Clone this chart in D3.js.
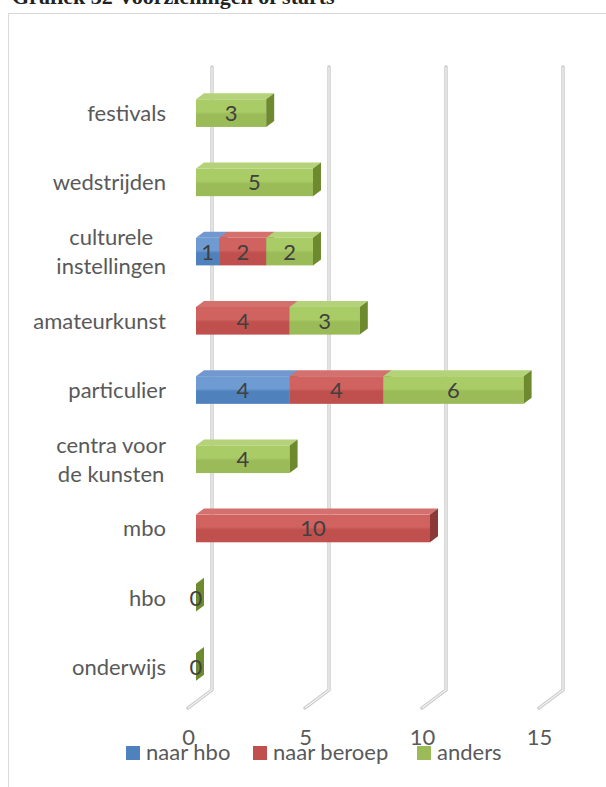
<!DOCTYPE html>
<html>
<head>
<meta charset="utf-8">
<script src="https://cdn.jsdelivr.net/npm/d3@7"></script>
<style>
  body { margin: 0; background: #fff; }
  svg text { font-family: Lato, "Open Sans", sans-serif; }
</style>
</head>
<body>
<div class="chart"></div>
<script>
// categories from top to bottom
const categories = ['festivals', 'wedstrijden', 'culturele\ninstellingen', 'amateurkunst',
  'particulier', 'centra voor\nde kunsten', 'mbo', 'hbo', 'onderwijs'];
const seriesNames = ['naar hbo', 'naar beroep', 'anders'];
// null = no segment drawn
const naarHbo    = [null, null, 1, null, 4, null, null, null, null];
const naarBeroep = [null, null, 2, 4, 4, null, 10, null, null];
const anders     = [3, 5, 2, 3, 6, 4, null, 0, 0];
const tickValues = [0, 5, 10, 15];

const series = [naarHbo, naarBeroep, anders];
const colors = [
  {front: '#4f81bd', light: '#6f9bd3', top: '#7199cf', side: '#37608f'},
  {front: '#c0504d', light: '#d0625f', top: '#d4716e', side: '#8c3a37'},
  {front: '#9bbb59', light: '#a9cc66', top: '#b4d279', side: '#6e8a2f'}
];

const width = 606, height = 787;
const fs = 22;
const svg = d3.select('.chart').append('svg')
  .attr('width', width)
  .attr('height', height);

// title (cut off at top)
svg.append('text')
  .attr('x', 12).attr('y', 4)
  .style('font-family', '"Liberation Serif", serif')
  .attr('font-size', 22)
  .attr('font-weight', 'bold')
  .attr('fill', '#222')
  .text('Grafiek 32 Voorzieningen of starts');

// outer frame
svg.append('rect')
  .attr('x', 8.5).attr('y', 13.5)
  .attr('width', 620).attr('height', 800)
  .attr('fill', 'none')
  .attr('stroke', '#d9d9d9');

// scales: front of bars, floor front, back wall
const unit = 23.4;
const xBar = d3.scaleLinear().domain([0, 15]).range([196, 196 + 15 * unit]);
const xFloor = d3.scaleLinear().domain([0, 15]).range([188, 188 + 15 * unit]);
const xWall = d3.scaleLinear().domain([0, 15]).range([212, 212 + 15 * unit]);
const y = d3.scaleBand().domain(categories).range([78.5, 701.5]).paddingInner(0.6).paddingOuter(0.3);
const dx = 8, dy = 6;

// gridlines on the back wall + floor
const grid = svg.append('g');
tickValues.forEach(v => {
  const path = `M${xWall(v)},67 L${xWall(v)},690 L${xFloor(v)},708`;
  grid.append('path').attr('d', path).attr('fill', 'none')
    .attr('stroke', '#c9c9c9').attr('stroke-width', 3.4).attr('stroke-linejoin', 'round').attr('stroke-linecap', 'round');
  grid.append('path').attr('d', path).attr('fill', 'none')
    .attr('stroke', '#f4f4f4').attr('stroke-width', 1.2);
});

// gradients for front faces
const defs = svg.append('defs');
colors.forEach((c, i) => {
  const g = defs.append('linearGradient').attr('id', 'grad' + i)
    .attr('x1', 0).attr('y1', 0).attr('x2', 0).attr('y2', 1);
  g.append('stop').attr('offset', '0%').attr('stop-color', c.light);
  g.append('stop').attr('offset', '45%').attr('stop-color', c.light);
  g.append('stop').attr('offset', '55%').attr('stop-color', c.front);
  g.append('stop').attr('offset', '100%').attr('stop-color', c.front);
});

// bars
const bars = svg.append('g');
const labels = [];
categories.forEach((cat, ci) => {
  let cum = 0;
  const yt = y(cat), yb = y(cat) + y.bandwidth();
  series.forEach((s, si) => {
    const v = s[ci];
    if (v === null) return;
    const x0 = xBar(cum), x1 = xBar(cum + v);
    const c = colors[si];
    if (v > 0) {
      bars.append('rect')
        .attr('x', x0).attr('y', yt)
        .attr('width', x1 - x0).attr('height', yb - yt)
        .attr('fill', `url(#grad${si})`);
      bars.append('path')
        .attr('d', `M${x0},${yt} L${x0 + dx},${yt - dy} L${x1 + dx},${yt - dy} L${x1},${yt} Z`)
        .attr('fill', c.top);
    }
    bars.append('path')
      .attr('d', `M${x1},${yt} L${x1 + dx},${yt - dy} L${x1 + dx},${yb - dy} L${x1},${yb} Z`)
      .attr('fill', c.side);
    labels.push({v: v, x: (x0 + x1) / 2, y: (yt + yb) / 2});
    cum += v;
  });
});

svg.append('g').selectAll('text')
  .data(labels)
  .enter()
  .append('text')
  .attr('x', d => d.x)
  .attr('y', d => d.y + 8)
  .attr('text-anchor', 'middle')
  .attr('font-size', fs)
  .attr('fill', '#404040')
  .text(d => d.v);

// category labels (multi-line centered, block right-aligned)
const catG = svg.append('g');
categories.forEach(cat => {
  const lines = cat.split('\n');
  const cy = y(cat) + y.bandwidth() / 2;
  const t = catG.append('text')
    .attr('font-size', fs)
    .attr('fill', '#595959')
    .attr('text-anchor', 'middle');
  const lh = 29;
  lines.forEach((ln, i) => {
    t.append('tspan').attr('y', cy + 8 + (i - (lines.length - 1) / 2) * lh).text(ln);
  });
  let maxW = 0;
  t.selectAll('tspan').each(function() { maxW = Math.max(maxW, this.getComputedTextLength()); });
  t.selectAll('tspan').attr('x', 166 - maxW / 2);
});

// value axis labels
const axis = svg.append('g')
  .attr('transform', 'translate(0,729)')
  .call(d3.axisBottom(xFloor).tickValues(tickValues).tickSize(0).tickPadding(0));
axis.select('.domain').remove();
axis.selectAll('text').attr('font-size', fs).attr('fill', '#595959')
  .style('font-family', 'Lato, sans-serif');

// legend
const legendX = [126, 253, 417];
const legend = svg.append('g');
seriesNames.forEach((n, i) => {
  legend.append('rect')
    .attr('x', legendX[i]).attr('y', 746)
    .attr('width', 14).attr('height', 14)
    .attr('fill', colors[i].front);
  legend.append('text')
    .attr('x', legendX[i] + 20).attr('y', 760)
    .attr('font-size', fs)
    .attr('fill', '#595959')
    .text(n);
});
</script>
</body>
</html>
